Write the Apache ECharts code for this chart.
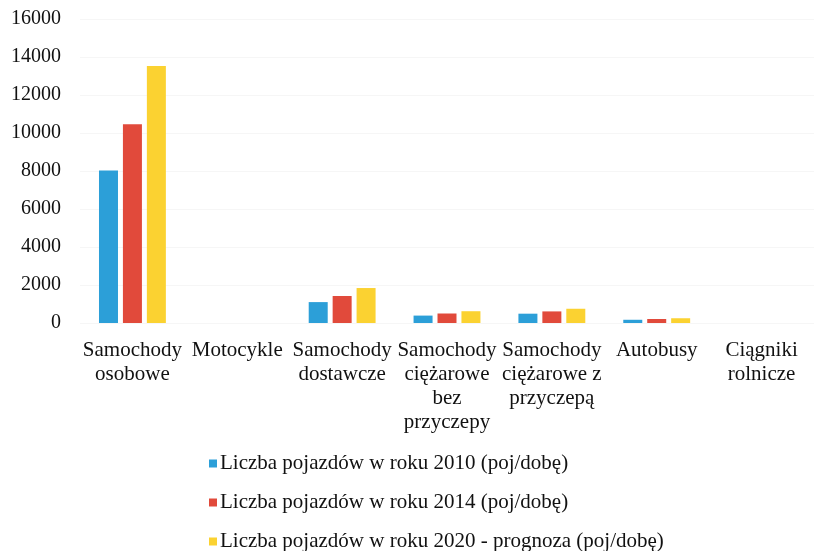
<!DOCTYPE html>
<html>
<head>
<meta charset="utf-8">
<script src="https://cdn.jsdelivr.net/npm/echarts@6/dist/echarts.min.js"></script>
<style>
  html, body { margin: 0; padding: 0; background: #fff; }
  #chart { width: 814px; height: 551px; }
</style>
</head>
<body>
<div id="chart"></div>
<script>
// kategorie pojazdów
var categories = [
  'Samochody\nosobowe',
  'Motocykle',
  'Samochody\ndostawcze',
  'Samochody\nciężarowe\nbez\nprzyczepy',
  'Samochody\nciężarowe z\nprzyczepą',
  'Autobusy',
  'Ciągniki\nrolnicze'
];
var seriesNames = [
  'Liczba pojazdów w roku 2010 (poj/dobę)',
  'Liczba pojazdów w roku 2014 (poj/dobę)',
  'Liczba pojazdów w roku 2020 - prognoza (poj/dobę)'
];
// wartości
var values2010 = [8030, 0, 1100, 390, 490, 170, 0];
var values2014 = [10460, 0, 1420, 500, 610, 210, 0];
var values2020 = [13530, 0, 1840, 620, 750, 250, 0];

var colors = ['#2c9fd8', '#e14a3b', '#fbd231'];
var font = 'Liberation Serif';

var myChart = echarts.init(document.getElementById('chart'));
var option = {
  animation: false,
  color: colors,
  grid: {
    left: 80,
    top: 19,
    width: 752,
    bottom: 228,
    containLabel: false
  },
  legend: {
    orient: 'vertical',
    left: 209,
    top: 453,
    height: 120,
    padding: 0,
    itemWidth: 8,
    itemHeight: 8,
    itemGap: 18,
    icon: 'rect',
    textStyle: { fontFamily: font, fontSize: 21, lineHeight: 20, color: '#111', padding: [0, 0, 0, -2] },
    data: seriesNames
  },
  xAxis: {
    type: 'category',
    data: categories,
    axisLine: { show: false },
    axisTick: { show: false },
    axisLabel: {
      interval: 0,
      margin: 15,
      fontFamily: font,
      fontSize: 21,
      lineHeight: 24,
      color: '#111'
    }
  },
  yAxis: {
    type: 'value',
    min: 0,
    max: 16000,
    interval: 2000,
    axisLine: { show: false },
    axisTick: { show: false },
    splitLine: { lineStyle: { color: '#f6f6f6' } },
    axisLabel: {
      margin: 19,
      fontFamily: font,
      fontSize: 20,
      color: '#111',
      formatter: function (v) { return String(v); }
    }
  },
  series: [
    { name: seriesNames[0], type: 'bar', barWidth: 19, barGap: '26%', data: values2010 },
    { name: seriesNames[1], type: 'bar', barWidth: 19, barGap: '26%', data: values2014 },
    { name: seriesNames[2], type: 'bar', barWidth: 19, barGap: '26%', data: values2020 }
  ]
};
myChart.setOption(option);
</script>
</body>
</html>
